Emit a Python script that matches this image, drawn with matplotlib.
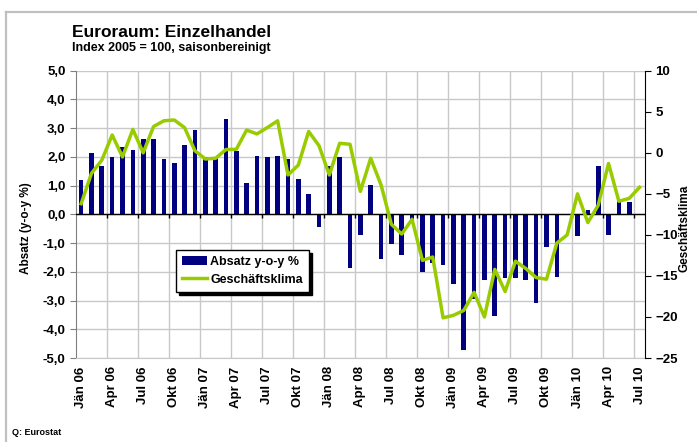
import matplotlib
matplotlib.use("Agg")
import matplotlib.pyplot as plt
from matplotlib.lines import Line2D
from matplotlib.patches import Patch
import numpy as np

plt.rcParams['font.family'] = ['Liberation Sans', 'DejaVu Sans']
plt.rcParams['font.weight'] = 'bold'

# months Jän 06 .. Jul 10
mon_names = ["Jän", "Feb", "Mär", "Apr", "Mai", "Jun", "Jul", "Aug", "Sep", "Okt", "Nov", "Dez"]
months = [f"{mon_names[m]} {y:02d}" for y in range(6, 11) for m in range(12)][:55]

# Absatz y-o-y % (Jän 06 .. Jun 10)
absatz = [1.2, 2.13, 1.68, 2.0, 2.34, 2.24, 2.62, 2.62, 1.93, 1.79, 2.41, 2.94,
          2.0, 1.97, 3.32, 2.22, 1.09, 2.03, 2.0, 2.03, 1.93, 1.24, 0.71, -0.43,
          1.68, 2.0, -1.87, -0.71, 1.02, -1.54, -1.02, -1.4, -0.3, -2.0, -1.68, -1.75,
          -2.41, -4.71, -2.96, -2.29, -3.53, -2.2, -2.2, -2.29, -3.07, -1.13, -2.17, 0.0,
          -0.74, 0.15, 1.68, -0.71, 0.52, 0.43]

# Geschäftsklima (Jän 06 .. Jul 10)
klima = [-6.2, -2.5, -0.9, 2.17, -0.5, 2.85, 0.0, 3.2, 3.9, 4.0, 3.07, 0.26,
         -0.75, -0.67, 0.4, 0.42, 2.77, 2.3, 3.07, 3.9, -2.7, -1.5, 2.6, 0.87,
         -2.7, 1.16, 1.04, -4.7, -0.67, -3.9, -8.7, -9.9, -8.1, -13.1, -12.7, -20.1,
         -19.8, -19.2, -17.0, -20.0, -14.2, -16.9, -13.2, -14.1, -15.2, -15.4, -11.0, -10.0,
         -5.0, -8.5, -6.4, -1.3, -5.9, -5.55, -4.2]

navy = "#000080"
green = "#99cc00"
gridc = "#c8c8c8"

fig = plt.figure(figsize=(6.97, 4.42), dpi=100)
ax = fig.add_axes([0.109, 0.190, 0.816, 0.650])
ax2 = ax.twinx()

ax.bar(np.arange(len(absatz)), absatz, width=0.45, color=navy, zorder=2)
ax2.plot(np.arange(len(klima)), klima, color=green, lw=2.5)

ax.set_xlim(-0.5, len(months) - 0.5)
ax.set_ylim(-5, 5)
ax2.set_ylim(-25, 10)

ax.set_yticks(np.arange(-5, 5.1, 1))
ax.set_yticklabels([f"{v:.1f}".replace(".", ",") for v in np.arange(-5, 5.1, 1)])
ax2.set_yticks(np.arange(-25, 11, 5))

xt = np.arange(0, len(months), 3)
ax.set_xticks(xt)
ax.set_xticklabels([months[i] for i in xt], rotation=90)
ax.tick_params(axis="x", length=0, pad=6, labelsize=9.5)
bounds = np.arange(2.5, len(months) - 0.5, 3)
ax.set_xticks(bounds, minor=True)
ax.tick_params(axis="x", which="minor", length=0)

ax.set_axisbelow(True)
ax.grid(True, axis="y", color=gridc, lw=1)
ax.grid(True, axis="x", which="minor", color=gridc, lw=1)

ax.axhline(0, color="black", lw=1, zorder=3)
ax.vlines(bounds, -0.14, 0, color="black", lw=1, zorder=3)

ax.tick_params(axis="y", direction="out", length=4, color="#808080", labelsize=9.5)
ax2.tick_params(axis="y", direction="out", length=4, color="black", labelsize=9.5)
for s in ["top"]:
    ax.spines[s].set_visible(False)
    ax2.spines[s].set_visible(False)
ax.spines["bottom"].set_color(gridc)
ax2.spines["bottom"].set_visible(False)
ax.spines["left"].set_color("#808080")
ax2.spines["left"].set_visible(False)
ax.spines["right"].set_visible(False)
ax2.spines["right"].set_color("black")

fig.text(0.038, 0.484, "Absatz (y-o-y %)", rotation=90, ha="center", va="center", fontsize=8.5)
fig.text(0.982, 0.484, "Geschäftsklima", rotation=90, ha="center", va="center", fontsize=8.5)

fig.text(0.103, 0.917, "Euroraum: Einzelhandel", fontsize=12.5, va="baseline")
fig.text(0.103, 0.884, "Index 2005 = 100, saisonbereinigt", fontsize=9, va="baseline")
fig.text(0.017, 0.022, "Q: Eurostat", fontsize=6.5, va="center")

handles = [Patch(facecolor=navy), Line2D([], [], color=green, lw=2.5)]
leg = ax2.legend(handles, ["Absatz y-o-y %", "Geschäftsklima"], loc="upper left",
                 bbox_to_anchor=(0.176, 0.376), fancybox=False, framealpha=1,
                 edgecolor="black", fontsize=9, handlelength=2.0, handletextpad=0.25,
                 borderpad=0.5, labelspacing=0.45, borderaxespad=0,
                 shadow={"color": "black", "alpha": 1})
leg.get_frame().set_linewidth(1)

# outer frame
fig.add_artist(Line2D([6 / 697, 1], [1 - 12 / 442, 1 - 12 / 442], color="#c0c0c0", lw=1.6))
fig.add_artist(Line2D([6 / 697, 6 / 697], [0, 1 - 12 / 442], color="#c0c0c0", lw=1.6))

fig.savefig("out.png", dpi=100)
